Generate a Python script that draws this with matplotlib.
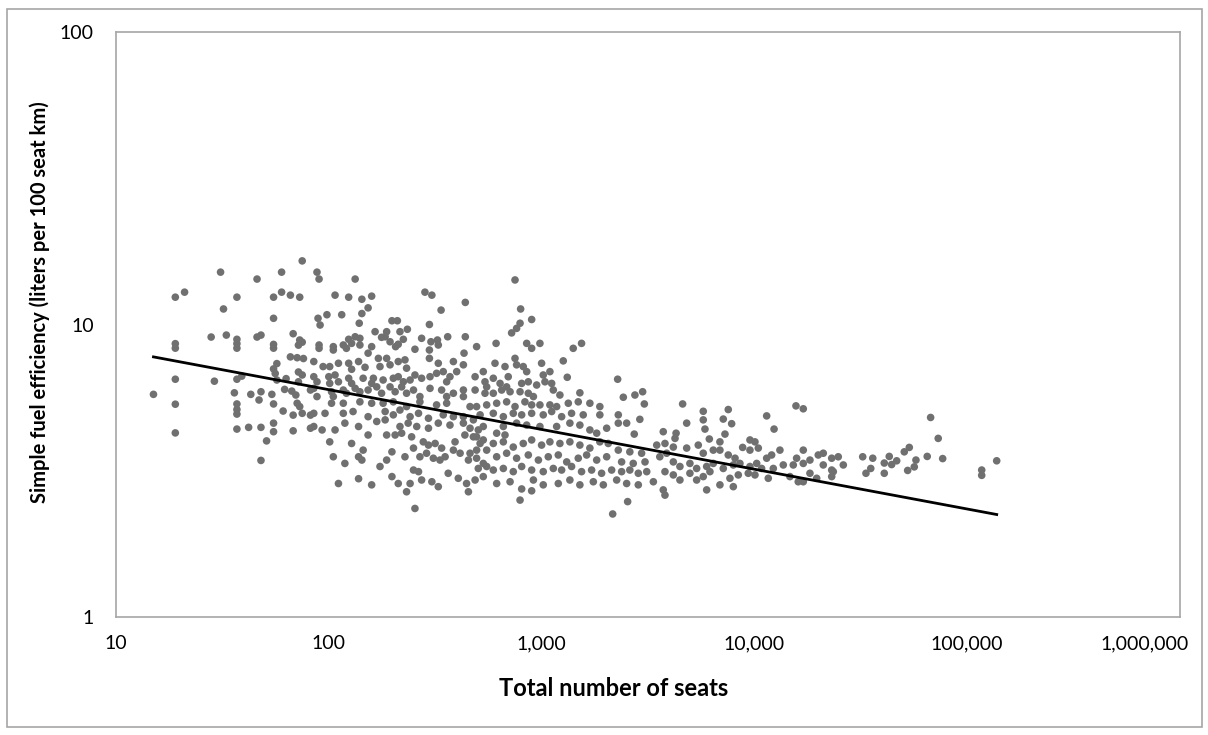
import matplotlib
matplotlib.use("Agg")
import matplotlib.pyplot as plt
import matplotlib.ticker as mticker
import matplotlib.transforms as mtransforms
from matplotlib.patches import Rectangle
import numpy as np

plt.rcParams['font.family'] = ['Lato', 'DejaVu Sans']

# (total seats, litres per 100 seat-km), grouped by size of operation
fleet_under_100 = [
    (75, 16.5), (31, 15.1), (46, 14.3), (60, 15.1), (19, 12.4), (21, 12.9), (37, 12.4), (55, 12.4),
    (60, 12.9), (66, 12.6), (73, 12.4), (32, 11.3), (55, 10.5), (28, 9.06), (33, 9.2), (37, 8.9),
    (37, 8.6), (37, 8.3), (46, 9.06), (48, 9.2), (55, 8.55), (55, 8.3), (68, 9.3), (73, 8.85),
    (72, 8.5), (75, 8.7), (19, 8.6), (19, 8.3), (66, 7.75), (71, 7.7), (76, 7.65), (57, 7.35),
    (55, 7.05), (56, 6.8), (19, 6.5), (29, 6.4), (37, 6.5), (39, 6.66), (63, 6.53), (72, 6.88),
    (75, 6.72), (72, 6.37), (57, 6.46), (15, 5.77), (36, 5.84), (43, 5.77), (48, 5.89), (47, 5.52),
    (54, 5.77), (62, 6.0), (67, 5.92), (70, 5.74), (71, 5.38), (73, 5.24), (75, 4.97), (68, 4.9),
    (82, 5.97), (19, 5.34), (37, 5.35), (37, 5.12), (37, 4.94), (55, 5.35), (61, 5.06), (82, 4.9),
    (82, 4.42), (19, 4.26), (37, 4.39), (42, 4.45), (48, 4.45), (55, 4.6), (55, 4.3), (68, 4.33),
    (51, 4.0), (48, 3.43),
]

fleet_100_600 = [
    (88, 15.1), (90, 14.3), (133, 14.3), (107, 12.6), (124, 12.4), (143, 12.2), (159, 12.5),
    (283, 12.9), (305, 12.6), (438, 11.9), (337, 11.2), (153, 11.4), (143, 10.9), (115, 10.8),
    (98, 10.8), (89, 10.5), (91, 9.96), (139, 10.1), (198, 10.3), (210, 10.3), (297, 10.0),
    (165, 9.45), (187, 9.45), (177, 9.04), (184, 9.08), (133, 9.08), (140, 8.97), (124, 8.9),
    (216, 9.45), (234, 9.63), (224, 8.9), (212, 8.56), (273, 8.97), (302, 8.73), (324, 8.85),
    (327, 8.51), (362, 9.08), (438, 9.08), (90, 8.51), (90, 8.29), (105, 8.4), (105, 8.18),
    (117, 8.51), (121, 8.29), (128, 8.62), (140, 8.51), (159, 8.4), (153, 7.98), (194, 8.73),
    (206, 8.4), (254, 8.23), (297, 8.18), (297, 7.66), (495, 8.4), (432, 7.98), (85, 7.47),
    (94, 7.18), (101, 7.18), (111, 7.37), (124, 7.37), (128, 7.03), (138, 7.47), (148, 7.14),
    (171, 7.66), (187, 7.66), (174, 7.18), (194, 7.28), (212, 7.47), (228, 7.57), (232, 7.09),
    (327, 7.37), (385, 7.47), (429, 7.28), (399, 6.9), (85, 6.63), (88, 6.37), (100, 6.63),
    (107, 6.72), (111, 6.37), (101, 6.29), (124, 6.55), (128, 6.29), (145, 6.55), (162, 6.55),
    (159, 6.29), (180, 6.46), (201, 6.55), (212, 6.63), (224, 6.37), (241, 6.46), (254, 6.72),
    (273, 6.55), (299, 6.63), (321, 6.81), (345, 6.9), (371, 6.63), (358, 6.37), (487, 6.63),
    (532, 6.9), (542, 6.37), (552, 6.12), (85, 6.05), (88, 5.67), (103, 5.89), (105, 5.67),
    (117, 5.97), (121, 5.82), (133, 6.05), (140, 5.89), (153, 5.97), (168, 6.12), (177, 5.82),
    (194, 6.12), (205, 5.89), (220, 6.12), (232, 5.82), (250, 5.97), (268, 5.67), (299, 6.05),
    (339, 5.97), (358, 5.67), (385, 5.82), (429, 5.97), (429, 5.67), (487, 5.97), (542, 5.82),
    (103, 5.38), (117, 5.38), (140, 5.44), (159, 5.38), (180, 5.38), (201, 5.44), (232, 5.24),
    (268, 5.44), (321, 5.31), (358, 5.38), (461, 5.24), (495, 5.24), (552, 5.31), (85, 4.97),
    (96, 4.97), (117, 4.97), (130, 5.04), (153, 4.84), (184, 5.04), (201, 4.91), (216, 5.10),
    (241, 4.84), (264, 4.97), (294, 4.78), (345, 4.91), (385, 4.84), (429, 4.84), (478, 4.72),
    (514, 4.91), (85, 4.48), (93, 4.36), (107, 4.36), (119, 4.6), (138, 4.48), (168, 4.66),
    (184, 4.72), (216, 4.48), (236, 4.6), (259, 4.48), (294, 4.42), (327, 4.6), (371, 4.53),
    (429, 4.6), (461, 4.42), (504, 4.36), (532, 4.48), (101, 3.97), (128, 3.92), (153, 4.19),
    (187, 4.19), (205, 4.19), (220, 4.25), (245, 4.13), (278, 3.97), (294, 3.87), (316, 3.92),
    (339, 3.78), (392, 3.97), (436, 4.19), (495, 4.13), (532, 4.03), (105, 3.53), (119, 3.35),
    (138, 3.53), (143, 3.44), (145, 3.72), (174, 3.27), (187, 3.44), (198, 3.67), (228, 3.53),
    (250, 3.78), (268, 3.53), (288, 3.63), (310, 3.49), (333, 3.44), (352, 3.53), (385, 3.72),
    (414, 3.63), (453, 3.44), (495, 3.49), (532, 3.35), (111, 2.86), (138, 2.97), (159, 2.83),
    (198, 3.02), (212, 2.86), (241, 2.86), (250, 3.18), (264, 3.14), (273, 2.94), (305, 2.9),
    (327, 2.79), (364, 3.1), (406, 2.98), (444, 2.86), (487, 2.94), (532, 3.02), (232, 2.68),
    (453, 2.68), (254, 2.35), (478, 4.13), (514, 3.92), (552, 3.72), (495, 3.72), (461, 3.63),
    (552, 3.27), (504, 3.22),
]

fleet_600_4000 = [
    (750, 14.2), (797, 11.3), (898, 10.4), (723, 9.36), (763, 9.7), (792, 10.1), (611, 8.62),
    (851, 8.62), (898, 8.29), (982, 8.62), (1408, 8.29), (1541, 8.62), (750, 7.66), (1264, 7.51),
    (604, 7.37), (673, 7.18), (763, 7.28), (820, 7.18), (851, 6.9), (1000, 7.37), (1094, 6.9),
    (1018, 6.72), (1320, 6.6), (2277, 6.5), (593, 6.55), (638, 6.29), (697, 6.63), (685, 6.12),
    (806, 6.29), (866, 6.37), (948, 6.21), (1037, 6.37), (1115, 6.29), (1135, 5.97), (593, 5.82),
    (649, 5.97), (711, 5.89), (792, 5.89), (866, 5.82), (915, 5.67), (1219, 5.74), (1513, 5.84),
    (2421, 5.64), (2745, 5.74), (2984, 5.89), (3039, 5.35), (615, 5.38), (685, 5.44), (750, 5.24),
    (835, 5.44), (898, 5.31), (982, 5.31), (1094, 5.31), (1177, 5.24), (1335, 5.38), (1487, 5.44),
    (1686, 5.38), (1878, 5.24), (593, 4.97), (661, 4.84), (736, 4.97), (806, 4.91), (898, 4.97),
    (1018, 4.91), (1115, 5.04), (1242, 4.84), (1383, 4.97), (1569, 4.91), (1878, 4.91),
    (2293, 4.91), (2895, 4.74), (661, 4.48), (763, 4.6), (851, 4.53), (982, 4.48), (1177, 4.48),
    (1358, 4.6), (1513, 4.53), (1686, 4.36), (1815, 4.25), (2022, 4.42), (2293, 4.6), (2510, 4.6),
    (615, 4.25), (673, 4.19), (2725, 4.22), (3730, 4.3), (593, 3.92), (661, 3.97), (736, 3.81),
    (820, 3.92), (898, 4.03), (1000, 3.87), (1094, 3.97), (1219, 3.92), (1358, 3.97), (1513, 3.87),
    (1686, 3.78), (1878, 3.97), (2057, 3.92), (2293, 3.72), (2598, 3.67), (2951, 3.63),
    (3475, 3.87), (3800, 3.92), (615, 3.53), (685, 3.63), (763, 3.49), (866, 3.58), (966, 3.44),
    (1075, 3.53), (1198, 3.58), (1312, 3.39), (1487, 3.49), (1628, 3.58), (1815, 3.44),
    (2022, 3.53), (2377, 3.39), (2695, 3.35), (3062, 3.39), (3593, 3.53), (3870, 3.63),
    (593, 3.18), (661, 3.22), (736, 3.14), (806, 3.27), (898, 3.18), (1018, 3.14), (1135, 3.22),
    (1242, 3.18), (1383, 3.27), (1541, 3.14), (1718, 3.18), (1914, 3.1), (2134, 3.18),
    (2377, 3.14), (2598, 3.18), (2847, 3.1), (3119, 3.14), (3800, 3.14), (615, 2.86), (711, 2.9),
    (806, 2.74), (915, 2.94), (1018, 2.83), (1198, 2.86), (1358, 2.94), (1513, 2.83), (1750, 2.9),
    (1950, 2.83), (2253, 2.94), (2510, 2.86), (2847, 2.83), (3351, 2.9), (3730, 2.72),
    (3800, 2.61), (792, 2.51), (898, 2.7), (2537, 2.48), (2158, 2.25),
]

fleet_4000_30000 = [
    (4600, 5.35), (5750, 5.05), (5750, 4.72), (5857, 4.39), (7537, 5.12), (7140, 4.75),
    (7818, 4.58), (7273, 4.22), (4806, 4.6), (4285, 4.25), (4236, 4.08), (11420, 4.87),
    (12370, 4.39), (15680, 5.27), (16970, 5.15), (6140, 4.06), (6886, 3.97), (9530, 4.03),
    (10060, 3.97), (9530, 3.72), (8806, 3.8), (4159, 3.81), (4806, 3.78), (5448, 3.87),
    (5750, 3.63), (6409, 3.72), (6886, 3.72), (7537, 3.58), (8110, 3.49), (10430, 3.78),
    (11420, 3.49), (12050, 3.58), (13180, 3.72), (15790, 3.49), (16970, 3.72), (18240, 3.44),
    (19960, 3.58), (21070, 3.63), (23080, 3.49), (24780, 3.53), (26170, 3.31), (4159, 3.39),
    (4467, 3.27), (4977, 3.35), (5353, 3.22), (5966, 3.27), (6409, 3.35), (7140, 3.22),
    (7960, 3.31), (8550, 3.35), (9530, 3.27), (10250, 3.35), (10810, 3.22), (12270, 3.22),
    (13670, 3.31), (15230, 3.31), (16970, 3.35), (21070, 3.31), (23080, 3.18), (4159, 3.06),
    (4467, 2.94), (4977, 3.1), (5353, 2.94), (5750, 3.02), (6181, 3.14), (6886, 2.83),
    (7675, 2.98), (8400, 3.06), (9357, 3.1), (10060, 3.06), (11620, 2.98), (14690, 3.02),
    (16070, 2.9), (18240, 3.1), (19620, 2.98), (23080, 3.02), (23480, 3.14), (5966, 2.72),
    (7960, 2.79), (16970, 2.9),
]

fleet_over_30000 = [
    (67310, 4.81), (73080, 4.08), (32280, 3.53), (35990, 3.49), (35220, 3.22), (33440, 3.1),
    (40770, 3.36), (43020, 3.54), (44150, 3.32), (46630, 3.42), (40770, 3.1), (50620, 3.67),
    (53440, 3.8), (57430, 3.44), (56400, 3.26), (52510, 3.17), (64880, 3.54), (76690, 3.48),
    (117000, 3.18), (117000, 3.05), (137600, 3.42),
]

# power-law trendline y = coef * x ** exponent
trend_coef = 11.2
trend_exp = -0.136

x_ticks = [10, 100, 1000, 10000, 100000, 1000000]
y_ticks = [1, 10, 100]

points = np.array(fleet_under_100 + fleet_100_600 + fleet_600_4000
                  + fleet_4000_30000 + fleet_over_30000)
seats = points[:, 0]
efficiency = points[:, 1]

fig = plt.figure(figsize=(12.08, 7.35), dpi=100)
ax = fig.add_axes([116 / 1208, 1 - 617 / 735, (1180 - 116) / 1208, (617 - 32) / 735])

ax.scatter(seats, efficiency, s=30, color='#707070', edgecolors='none', zorder=2)

xs = np.logspace(np.log10(seats.min()), np.log10(seats.max()), 200)
ax.plot(xs, trend_coef * xs ** trend_exp, color='black', lw=2.0, zorder=3)

ax.set_xscale('log')
ax.set_yscale('log')
ax.set_xlim(x_ticks[0], x_ticks[-1])
ax.set_ylim(y_ticks[0], y_ticks[-1])
ax.xaxis.set_major_locator(mticker.FixedLocator(x_ticks))
ax.yaxis.set_major_locator(mticker.FixedLocator(y_ticks))
ax.xaxis.set_minor_locator(mticker.NullLocator())
ax.yaxis.set_minor_locator(mticker.NullLocator())
fmt = mticker.FuncFormatter(lambda v, p: '{:,.0f}'.format(v))
ax.xaxis.set_major_formatter(fmt)
ax.yaxis.set_major_formatter(fmt)
ax.tick_params(axis='x', length=0, pad=13, labelsize=14)
ax.tick_params(axis='y', length=0, pad=16, labelsize=14)

for s in ax.spines.values():
    s.set_color('#a6a6a6')
    s.set_linewidth(1.2)

# keep the last x label inside the chart frame
last = ax.get_xticklabels()[-1]
last.set_transform(last.get_transform() + mtransforms.ScaledTranslation(-0.35, 0, fig.dpi_scale_trans))

fig.text(614 / 1208, 1 - 688 / 735, 'Total number of seats', ha='center', va='center',
         fontsize=17, fontweight='bold')
fig.text(40 / 1208, 1 - 302 / 735, 'Simple fuel efficiency (liters per 100 seat km)',
         ha='center', va='center', rotation=90, fontsize=14.5, fontweight='bold')

fig.patches.append(Rectangle((7 / 1208, 1 - 727 / 735), (1202 - 7) / 1208, (727 - 9) / 735,
                             transform=fig.transFigure, fill=False, edgecolor='#a6a6a6', lw=1.2))

fig.savefig('out.png', dpi=100)
